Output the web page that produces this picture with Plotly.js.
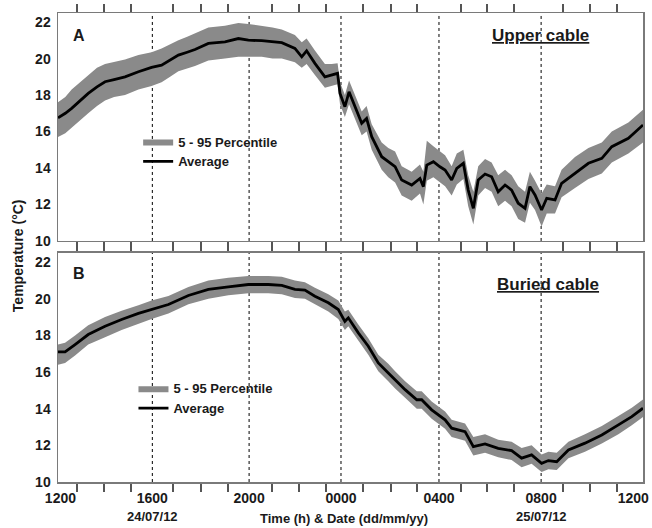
<!DOCTYPE html>
<html>
<head>
<meta charset="utf-8">
<script src="https://cdn.plot.ly/plotly-3.0.1.min.js"></script>
<style>html,body{margin:0;padding:0;background:#fff;}#chart{width:652px;height:528px;}</style>
</head>
<body>
<div id="chart"></div>
<script>
// Panel A – upper cable (hours elapsed from 12:00 on 24/07/12)
const hoursA = [0.0,0.3,0.56,0.9,1.24,1.6,1.93,2.3,2.75,3.3,3.84,4.25,4.6,4.94,5.3,5.62,6.17,6.85,7.4,7.81,8.36,8.8,9.18,9.72,10.0,10.2,10.54,10.95,11.23,11.47,11.57,11.77,11.94,12.18,12.46,12.66,12.87,13.28,13.55,13.83,14.1,14.51,14.85,14.99,15.13,15.4,15.67,15.88,16.15,16.36,16.63,16.83,17.04,17.24,17.52,17.79,18.06,18.34,18.61,18.88,19.16,19.36,19.57,19.84,20.05,20.39,20.66,21.21,21.76,22.31,22.72,23.4,24.0];
const avgA = [16.75,17.0,17.27,17.7,18.09,18.45,18.73,18.85,19.0,19.28,19.52,19.64,19.9,20.19,20.35,20.5,20.83,20.92,21.1,21.01,20.98,20.93,20.87,20.56,20.1,20.43,19.74,19.0,19.1,19.19,18.09,17.36,18.18,17.36,16.45,16.72,15.72,14.62,14.35,14.07,13.34,13.07,13.43,12.98,14.16,14.35,14.07,13.89,13.34,13.98,14.26,12.79,11.79,13.34,13.67,13.52,12.7,13.07,12.79,12.07,11.79,12.98,12.52,11.7,12.34,12.25,13.16,13.71,14.26,14.53,15.17,15.63,16.36];
const loA = [15.7,15.9,16.2,16.6,17.0,17.4,17.7,17.9,18.0,18.3,18.5,18.7,19.0,19.3,19.45,19.6,19.9,20.0,20.1,20.1,20.1,20.0,20.0,19.8,19.5,19.7,19.1,18.4,18.5,18.6,17.5,16.8,17.5,16.7,15.8,16.0,15.0,13.9,13.5,13.2,12.5,12.2,12.6,12.0,13.3,13.5,13.2,13.0,12.5,13.1,13.4,11.9,10.9,12.5,12.9,12.7,11.9,12.2,11.9,11.2,11.0,12.1,11.7,10.8,11.5,11.5,12.4,12.9,13.4,13.7,14.3,14.8,15.4];
const hiA = [17.6,17.9,18.3,18.7,19.1,19.5,19.7,19.8,19.95,20.2,20.35,20.55,20.8,21.0,21.2,21.4,21.7,21.8,21.95,21.9,21.8,21.7,21.6,21.3,20.9,21.1,20.45,19.7,19.7,19.75,18.7,18.0,18.8,18.0,17.1,17.4,16.4,15.4,15.1,14.9,14.1,13.8,14.2,13.8,15.5,15.2,14.9,14.7,14.1,14.8,15.0,13.6,12.7,14.1,14.5,14.3,13.6,13.9,13.6,13.0,12.7,13.8,13.3,12.6,13.1,13.0,13.9,14.6,15.1,15.4,16.0,16.5,17.2];

// Panel B – buried cable
const hoursB = [0.0,0.29,0.7,1.24,1.93,2.61,3.3,3.84,4.53,5.35,6.17,6.99,7.81,8.63,9.18,9.72,10.13,10.54,11.09,11.5,11.77,11.91,12.32,12.73,13.14,13.55,13.83,14.24,14.72,14.92,15.33,15.88,16.15,16.7,17.04,17.52,18.06,18.61,19.02,19.43,19.84,20.12,20.46,20.94,21.62,22.31,22.99,23.54,24.0];
const avgB = [17.1,17.1,17.5,18.05,18.5,18.87,19.2,19.41,19.69,20.18,20.51,20.65,20.78,20.78,20.73,20.51,20.47,20.14,19.78,19.41,18.77,18.96,18.14,17.41,16.5,15.95,15.58,15.04,14.49,14.49,13.94,13.39,12.94,12.75,11.93,12.08,11.84,11.71,11.3,11.48,11.02,11.17,11.11,11.75,12.12,12.57,13.12,13.57,14.03];
const loB = [16.4,16.5,16.9,17.5,17.9,18.3,18.65,18.9,19.2,19.7,20.0,20.2,20.3,20.3,20.25,20.05,20.0,19.7,19.3,18.9,18.3,18.5,17.7,16.95,16.05,15.5,15.1,14.6,14.0,14.0,13.45,12.9,12.45,12.25,11.45,11.6,11.35,11.2,10.8,11.0,10.55,10.7,10.65,11.3,11.65,12.1,12.6,13.1,13.55];
const hiB = [17.5,17.6,18.0,18.55,19.0,19.35,19.65,19.9,20.15,20.65,21.0,21.15,21.25,21.25,21.2,21.0,20.9,20.6,20.25,19.9,19.3,19.4,18.6,17.85,16.95,16.45,16.05,15.5,14.95,14.95,14.4,13.85,13.4,13.2,12.45,12.6,12.3,12.2,11.85,12.0,11.5,11.65,11.6,12.2,12.6,13.05,13.6,14.05,14.5];

// Axis labelling
const labelHours = [0.1,3.87,7.84,11.61,15.63,19.82,23.6];
const labelText = ["1200","1600","2000","0000","0400","0800","1200"];
const gridHours = [3.87,7.84,11.61,15.63,19.82];
const minorHours = [0.78,1.89,3.0,4.72,5.87,6.97,8.78,9.89,11.0,12.51,13.66,14.73,16.53,17.6,18.71,20.72,21.83,22.93];
const dateHours = [3.87,19.82];
const dateText = ["24/07/12","25/07/12"];
const yTicks = [10,12,14,16,18,20,22];

const BAND = '#8a8a8a', LINE = '#000000', BORDER = '#7a7a7a', TXT = '#1a1a1a';
const FONT = 'Liberation Sans, Arial, sans-serif';

function band(h, lo, hi, xa, ya, legend) {
  return {
    x: h.concat(h.slice().reverse()),
    y: hi.concat(lo.slice().reverse()),
    xaxis: xa, yaxis: ya, type: 'scatter', mode: 'lines',
    fill: 'toself', fillcolor: BAND, line: {width: 0, color: BAND},
    name: '5 - 95 Percentile', legend: legend, hoverinfo: 'skip'
  };
}
function avg(h, v, xa, ya, legend) {
  return {x: h, y: v, xaxis: xa, yaxis: ya, type: 'scatter', mode: 'lines',
    line: {color: LINE, width: 2.8}, name: 'Average', legend: legend};
}

const data = [
  band(hoursA, loA, hiA, 'x', 'y', 'legend'),
  avg(hoursA, avgA, 'x', 'y', 'legend'),
  band(hoursB, loB, hiB, 'x2', 'y2', 'legend2'),
  avg(hoursB, avgB, 'x2', 'y2', 'legend2'),
  // empty carrier so the hour-label axis is drawn
  {x: [], y: [], xaxis: 'x3', yaxis: 'y2', type: 'scatter', mode: 'lines', showlegend: false, hoverinfo: 'skip'}
];

const tickFont = {family: FONT, size: 14, color: TXT, weight: 'bold'};
// frame axes carrying the small outward ticks on top and bottom
const xFrame = {
  range: [0, 24], showgrid: false, zeroline: false,
  showline: true, linecolor: BORDER, linewidth: 1.5, mirror: 'ticks',
  tickmode: 'array', tickvals: minorHours, ticks: 'outside', ticklen: 8, tickwidth: 1.5, tickcolor: '#555',
  showticklabels: false
};
const yBase = {
  range: [10, 22.5], showgrid: false, zeroline: false,
  showline: true, linecolor: BORDER, linewidth: 1.5, mirror: true,
  tickmode: 'array', tickvals: yTicks, ticks: '', ticklabelstandoff: 3,
  tickfont: tickFont
};

const shapes = [];
[['x','y'],['x2','y2']].forEach(([xa, ya]) => {
  gridHours.forEach(g => shapes.push({type: 'line', xref: xa, yref: ya + ' domain', x0: g, x1: g, y0: 0, y1: 1,
    line: {color: '#000', width: 1, dash: 'dot'}, layer: 'below'}));
});

const boldFont = (s) => ({family: FONT, size: s, color: TXT, weight: 'bold'});
const annotations = [
  {text: 'A', xref: 'paper', yref: 'paper', x: 0.036, y: 0.953, xanchor: 'center', yanchor: 'middle', showarrow: false, font: boldFont(16)},
  {text: 'B', xref: 'paper', yref: 'paper', x: 0.036, y: 0.4456, xanchor: 'center', yanchor: 'middle', showarrow: false, font: boldFont(16)},
  {text: '<u>Upper cable</u>', xref: 'paper', yref: 'paper', x: 0.824, y: 0.952, xanchor: 'center', yanchor: 'middle', showarrow: false, font: boldFont(17)},
  {text: '<u>Buried cable</u>', xref: 'paper', yref: 'paper', x: 0.837, y: 0.421, xanchor: 'center', yanchor: 'middle', showarrow: false, font: boldFont(17)},
  {text: 'Temperature (°C)', xref: 'paper', yref: 'paper', x: -0.068, y: 0.482, xanchor: 'center', yanchor: 'middle', textangle: -90, showarrow: false, font: boldFont(14)},
  {text: 'Time (h) & Date (dd/mm/yy)', xref: 'paper', yref: 'paper', x: 0.489, y: -0.077, xanchor: 'center', yanchor: 'middle', showarrow: false, font: boldFont(13)}
];
dateHours.forEach((h, i) => annotations.push({text: dateText[i], xref: 'x2', yref: 'paper', x: h, y: -0.0725,
  xanchor: 'center', yanchor: 'middle', showarrow: false, font: boldFont(13)}));

const legendBase = {
  xanchor: 'left', yanchor: 'top', bgcolor: 'rgba(0,0,0,0)', borderwidth: 0,
  font: {family: FONT, size: 13, color: TXT, weight: 'bold'}, tracegroupgap: 0, itemwidth: 30
};

const layout = {
  width: 652, height: 528,
  margin: {l: 58, r: 9, t: 13, b: 46, autoexpand: false},
  paper_bgcolor: '#fff', plot_bgcolor: '#fff',
  font: {family: FONT, color: TXT, weight: 'bold'},
  xaxis: Object.assign({}, xFrame, {anchor: 'y'}),
  yaxis: Object.assign({}, yBase, {domain: [0.5139, 1], anchor: 'x'}),
  xaxis2: Object.assign({}, xFrame, {anchor: 'y2'}),
  yaxis2: Object.assign({}, yBase, {domain: [0, 0.4883], anchor: 'x2'}),
  // label axis for the hour / date ticks under panel B
  xaxis3: {overlaying: 'x2', anchor: 'y2', side: 'bottom', range: [0, 24], showgrid: false, zeroline: false, showline: false,
    tickmode: 'array', tickvals: labelHours, ticktext: labelText, ticks: '', ticklabelstandoff: 6,
    ticklabeloverflow: 'allow', tickfont: tickFont},
  showlegend: true,
  legend: Object.assign({}, legendBase, {x: 0.137, y: 0.758}),
  legend2: Object.assign({}, legendBase, {x: 0.129, y: 0.232}),
  shapes: shapes,
  annotations: annotations
};

Plotly.newPlot('chart', data, layout, {displayModeBar: false, staticPlot: true});
</script>
</body>
</html>
